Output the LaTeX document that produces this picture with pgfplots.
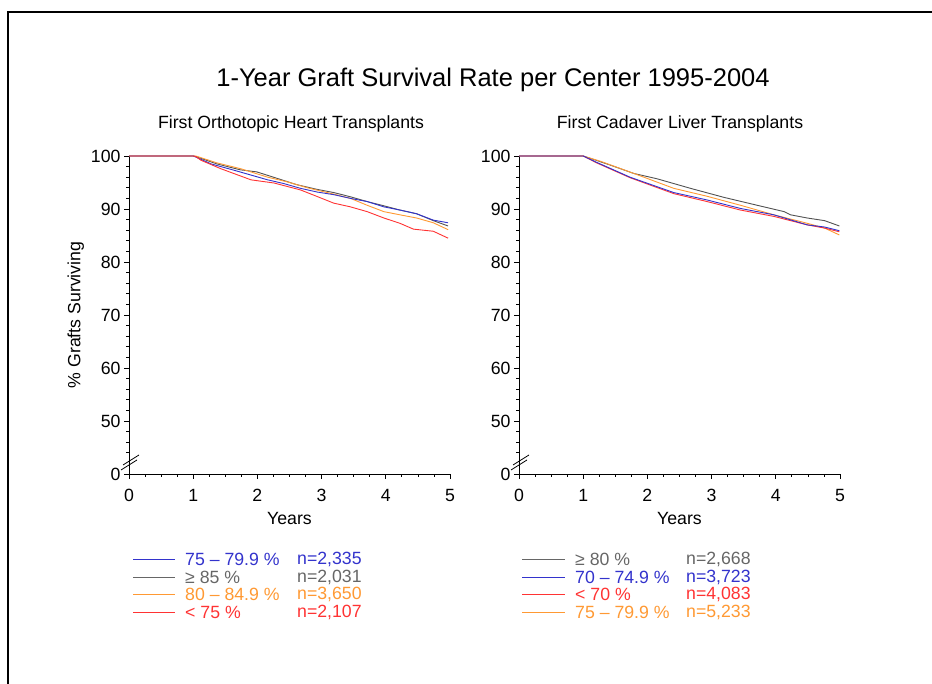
\documentclass[border=0pt]{standalone}
\usepackage{pgfplots}
\pgfplotsset{compat=1.18}
\usepackage{fontspec}
\setmainfont{Liberation Sans}
\definecolor{cblue}{RGB}{51,51,204}
\definecolor{cgray}{RGB}{102,102,102}
\definecolor{corange}{RGB}{255,153,51}
\definecolor{cred}{RGB}{255,51,51}
\newcommand{\fs}{\fontsize{17.7}{20}\selectfont}
\pgfplotsset{myax/.style={scale only axis, width=321pt, height=318pt, anchor=south west,
  xmin=0,xmax=5,ymin=40,ymax=100,
  axis x line*=bottom, axis y line*=left,
  axis line style={-, black, line width=0.8pt},
  xtick={0,...,5}, minor x tick num=3,
  ytick={40,50,60,70,80,90,100}, yticklabels={0,50,60,70,80,90,100},
  minor ytick={44,46,48,52,54,56,58,62,64,66,68,72,74,76,78,82,84,86,88,92,94,96,98},
  tick align=outside, major tick length=5pt, minor tick length=3pt,
  tick style={black, line width=0.8pt},
  ticklabel style={font=\fs},
  xticklabel style={yshift=-7pt},
  label style={font=\fs},
  xlabel style={yshift=-3pt},
  /pgf/number format/assume math mode=true,
  clip=false, xlabel={Years},
  every axis plot/.append style={line width=0.9pt, mark=none}}}
\begin{document}
\begin{tikzpicture}[x=1pt,y=1pt]
\useasboundingbox (0,0) rectangle (932,684);
\draw[line width=2pt] (8,-5) -- (8,672) -- (940,672);
\node[font=\fontsize{25.5}{28}\selectfont] at (493,604) {1-Year Graft Survival Rate per Center 1995-2004};
\node[font=\fs] at (291,560) {First Orthotopic Heart Transplants};
\node[font=\fs] at (680,560) {First Cadaver Liver Transplants};

\begin{axis}[myax, at={(129pt,210pt)}, ylabel={\% Grafts Surviving}]
\addplot[cgray!80!black] coordinates {(0,100)(1,100)(1.04,99.9)(1.37,98.5)(1.73,97.4)(1.99,97.0)(2.25,96.0)(2.61,94.6)(2.93,93.7)(3.19,93.1)(3.45,92.3)(3.71,91.4)(3.97,90.6)(4.22,89.8)(4.48,89.1)(4.74,87.8)(4.97,86.8)};
\addplot[corange] coordinates {(0,100)(1,100)(1.04,100)(1.37,98.7)(1.74,97.6)(2.16,96.0)(2.47,95.1)(2.78,94.0)(3.19,92.8)(3.45,92.0)(3.71,90.7)(3.97,89.5)(4.22,88.9)(4.48,88.3)(4.74,87.4)(4.97,86.1)};
\addplot[cblue] coordinates {(0,100)(1,100)(1.04,99.8)(1.28,98.5)(1.64,97.3)(1.90,96.4)(2.16,95.5)(2.41,94.8)(2.67,93.9)(2.93,93.2)(3.19,92.7)(3.45,92.0)(3.71,91.4)(3.97,90.4)(4.22,89.8)(4.48,89.1)(4.74,87.9)(4.97,87.4)};
\addplot[cred] coordinates {(0,100)(1,100)(1.04,99.9)(1.12,99.2)(1.43,97.6)(1.90,95.5)(2.26,94.9)(2.67,93.6)(2.88,92.6)(3.19,91.1)(3.45,90.4)(3.71,89.5)(3.97,88.3)(4.22,87.3)(4.43,86.2)(4.74,85.8)(4.97,84.5)};
\end{axis}

\begin{axis}[myax, at={(519pt,210pt)}]
\addplot[cgray!80!black] coordinates {(0,100)(1,100)(1.0,100)(1.37,98.5)(1.79,96.7)(2.15,95.7)(2.67,93.9)(3.19,92.2)(3.71,90.7)(4.13,89.5)(4.23,88.9)(4.49,88.3)(4.76,87.8)(4.99,86.8)};
\addplot[corange] coordinates {(0,100)(1,100)(1.27,99.0)(1.79,96.7)(2.41,93.9)(2.93,92.4)(3.45,90.7)(3.97,88.9)(4.49,87.3)(4.76,86.4)(4.99,85.1)};
\addplot[cred] coordinates {(0,100)(1,100)(1.21,98.7)(1.73,95.9)(2.41,92.9)(2.93,91.4)(3.45,89.8)(3.97,88.6)(4.49,87.0)(4.76,86.4)(4.99,85.7)};
\addplot[cblue] coordinates {(0,100)(1,100)(1.21,98.8)(1.73,96.0)(2.41,93.1)(2.93,91.7)(3.45,90.1)(3.97,88.9)(4.49,87.0)(4.76,86.6)(4.99,85.9)};
\end{axis}

% axis breaks
\foreach \dx in {0,390} {
  \draw[line width=0.8pt] (123+\dx,219) -- (139+\dx,229);
  \draw[line width=0.8pt] (121+\dx,214) -- (137+\dx,224);
}

% legends
\begin{scope}[font=\fs]
\draw[cblue, line width=0.9pt] (133,125) -- (175,125);
\node[anchor=west, cblue, inner sep=0] at (185,125) {75 – 79.9 \%};
\node[anchor=west, cblue, inner sep=0] at (297,125) {n=2,335};
\draw[cgray, line width=0.9pt] (133,107) -- (175,107);
\node[anchor=west, cgray, inner sep=0] at (185,107) {≥ 85 \%};
\node[anchor=west, cgray, inner sep=0] at (297,107) {n=2,031};
\draw[corange, line width=0.9pt] (133,90) -- (175,90);
\node[anchor=west, corange, inner sep=0] at (185,90) {80 – 84.9 \%};
\node[anchor=west, corange, inner sep=0] at (297,90) {n=3,650};
\draw[cred, line width=0.9pt] (133,72) -- (175,72);
\node[anchor=west, cred, inner sep=0] at (185,72) {< 75 \%};
\node[anchor=west, cred, inner sep=0] at (297,72) {n=2,107};

\draw[cgray, line width=0.9pt] (522,125) -- (565,125);
\node[anchor=west, cgray, inner sep=0] at (575,125) {≥ 80 \%};
\node[anchor=west, cgray, inner sep=0] at (686,125) {n=2,668};
\draw[cblue, line width=0.9pt] (522,107) -- (565,107);
\node[anchor=west, cblue, inner sep=0] at (575,107) {70 – 74.9 \%};
\node[anchor=west, cblue, inner sep=0] at (686,107) {n=3,723};
\draw[cred, line width=0.9pt] (522,90) -- (565,90);
\node[anchor=west, cred, inner sep=0] at (575,90) {< 70 \%};
\node[anchor=west, cred, inner sep=0] at (686,90) {n=4,083};
\draw[corange, line width=0.9pt] (522,72) -- (565,72);
\node[anchor=west, corange, inner sep=0] at (575,72) {75 – 79.9 \%};
\node[anchor=west, corange, inner sep=0] at (686,72) {n=5,233};
\end{scope}
\end{tikzpicture}
\end{document}
